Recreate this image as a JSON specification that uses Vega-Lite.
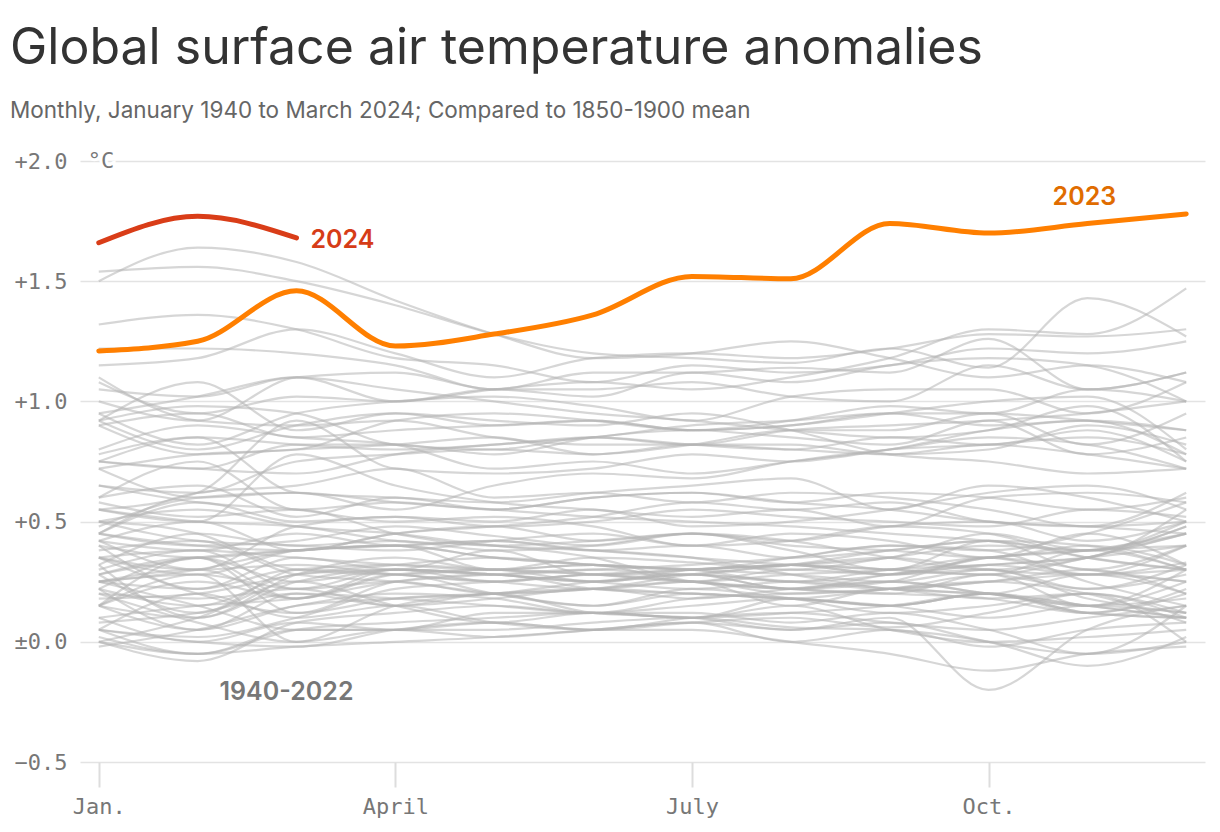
{
  "$schema": "https://vega.github.io/schema/vega-lite/v6.json",
  "width": 1125,
  "height": 601,
  "autosize": {"type": "none"},
  "padding": {"left": 80, "top": 161, "right": 15, "bottom": 70},
  "background": "white",
  "title": {
    "text": "Global surface air temperature anomalies",
    "subtitle": "Monthly, January 1940 to March 2024; Compared to 1850-1900 mean",
    "anchor": "start",
    "frame": "group",
    "dx": -70,
    "offset": 28,
    "font": "Inter",
    "fontSize": 50,
    "fontWeight": 400,
    "color": "#333333",
    "subtitleFont": "Inter",
    "subtitleFontSize": 22.5,
    "subtitleColor": "#666666",
    "subtitlePadding": 26
  },
  "config": {
    "view": {"stroke": null},
    "axis": {"gridColor": "#e3e3e3", "gridWidth": 1.5}
  },
  "datasets": {
    "hist": [
      {"year":1940,"Jan":0.30,"Feb":0.38,"Mar":0.35,"Apr":0.32,"May":0.30,"Jun":0.35,"Jul":0.33,"Aug":0.30,"Sep":0.35,"Oct":0.40,"Nov":0.38,"Dec":0.50},
      {"year":1941,"Jan":0.45,"Feb":0.40,"Mar":0.42,"Apr":0.48,"May":0.44,"Jun":0.40,"Jul":0.45,"Aug":0.38,"Sep":0.30,"Oct":0.42,"Nov":0.35,"Dec":0.30},
      {"year":1942,"Jan":0.32,"Feb":0.10,"Mar":0.28,"Apr":0.35,"May":0.30,"Jun":0.32,"Jul":0.25,"Aug":0.28,"Sep":0.30,"Oct":0.35,"Nov":0.28,"Dec":0.33},
      {"year":1943,"Jan":0.22,"Feb":0.35,"Mar":0.18,"Apr":0.30,"May":0.28,"Jun":0.25,"Jul":0.30,"Aug":0.32,"Sep":0.35,"Oct":0.45,"Nov":0.38,"Dec":0.48},
      {"year":1944,"Jan":0.50,"Feb":0.42,"Mar":0.40,"Apr":0.38,"May":0.42,"Jun":0.45,"Jul":0.40,"Aug":0.42,"Sep":0.48,"Oct":0.45,"Nov":0.35,"Dec":0.30},
      {"year":1945,"Jan":0.35,"Feb":0.28,"Mar":0.38,"Apr":0.40,"May":0.30,"Jun":0.32,"Jul":0.30,"Aug":0.35,"Sep":0.40,"Oct":0.38,"Nov":0.25,"Dec":0.15},
      {"year":1946,"Jan":0.25,"Feb":0.30,"Mar":0.18,"Apr":0.28,"May":0.20,"Jun":0.15,"Jul":0.20,"Aug":0.18,"Sep":0.22,"Oct":0.25,"Nov":0.20,"Dec":0.08},
      {"year":1947,"Jan":0.15,"Feb":0.10,"Mar":0.25,"Apr":0.30,"May":0.25,"Jun":0.28,"Jul":0.28,"Aug":0.22,"Sep":0.25,"Oct":0.35,"Nov":0.30,"Dec":0.25},
      {"year":1948,"Jan":0.35,"Feb":0.20,"Mar":0.12,"Apr":0.25,"May":0.28,"Jun":0.22,"Jul":0.20,"Aug":0.18,"Sep":0.15,"Oct":0.20,"Nov":0.12,"Dec":0.10},
      {"year":1949,"Jan":0.22,"Feb":0.05,"Mar":0.15,"Apr":0.20,"May":0.18,"Jun":0.12,"Jul":0.15,"Aug":0.18,"Sep":0.15,"Oct":0.20,"Nov":0.12,"Dec":0.10},
      {"year":1950,"Jan":0.00,"Feb":-0.08,"Mar":0.08,"Apr":0.12,"May":0.15,"Jun":0.12,"Jul":0.12,"Aug":0.08,"Sep":0.12,"Oct":0.05,"Nov":-0.05,"Dec":0.15},
      {"year":1951,"Jan":0.05,"Feb":0.02,"Mar":0.10,"Apr":0.22,"May":0.25,"Jun":0.28,"Jul":0.30,"Aug":0.32,"Sep":0.35,"Oct":0.30,"Nov":0.28,"Dec":0.40},
      {"year":1952,"Jan":0.35,"Feb":0.38,"Mar":0.22,"Apr":0.30,"May":0.28,"Jun":0.25,"Jul":0.28,"Aug":0.22,"Sep":0.25,"Oct":0.20,"Nov":0.15,"Dec":0.25},
      {"year":1953,"Jan":0.28,"Feb":0.35,"Mar":0.38,"Apr":0.40,"May":0.35,"Jun":0.32,"Jul":0.30,"Aug":0.28,"Sep":0.25,"Oct":0.30,"Nov":0.22,"Dec":0.28},
      {"year":1954,"Jan":0.05,"Feb":0.20,"Mar":0.10,"Apr":0.15,"May":0.08,"Jun":0.05,"Jul":0.08,"Aug":0.10,"Sep":0.06,"Oct":0.12,"Nov":0.20,"Dec":0.00},
      {"year":1955,"Jan":0.20,"Feb":0.08,"Mar":0.00,"Apr":0.05,"May":0.05,"Jun":0.08,"Jul":0.10,"Aug":0.06,"Sep":0.05,"Oct":0.00,"Nov":-0.10,"Dec":0.02},
      {"year":1956,"Jan":0.02,"Feb":-0.05,"Mar":0.05,"Apr":0.05,"May":0.02,"Jun":0.05,"Jul":0.08,"Aug":0.00,"Sep":0.05,"Oct":-0.02,"Nov":0.05,"Dec":0.08},
      {"year":1957,"Jan":0.10,"Feb":0.15,"Mar":0.18,"Apr":0.25,"May":0.28,"Jun":0.30,"Jul":0.28,"Aug":0.32,"Sep":0.30,"Oct":0.28,"Nov":0.35,"Dec":0.45},
      {"year":1958,"Jan":0.50,"Feb":0.45,"Mar":0.30,"Apr":0.28,"May":0.30,"Jun":0.25,"Jul":0.28,"Aug":0.25,"Sep":0.22,"Oct":0.25,"Nov":0.28,"Dec":0.20},
      {"year":1959,"Jan":0.25,"Feb":0.22,"Mar":0.30,"Apr":0.28,"May":0.25,"Jun":0.28,"Jul":0.25,"Aug":0.22,"Sep":0.20,"Oct":0.18,"Nov":0.12,"Dec":0.20},
      {"year":1960,"Jan":0.15,"Feb":0.28,"Mar":0.00,"Apr":0.15,"May":0.20,"Jun":0.22,"Jul":0.18,"Aug":0.22,"Sep":0.25,"Oct":0.20,"Nov":0.15,"Dec":0.30},
      {"year":1961,"Jan":0.28,"Feb":0.35,"Mar":0.25,"Apr":0.30,"May":0.28,"Jun":0.25,"Jul":0.22,"Aug":0.25,"Sep":0.22,"Oct":0.18,"Nov":0.20,"Dec":0.12},
      {"year":1962,"Jan":0.25,"Feb":0.28,"Mar":0.22,"Apr":0.25,"May":0.20,"Jun":0.22,"Jul":0.25,"Aug":0.20,"Sep":0.22,"Oct":0.25,"Nov":0.30,"Dec":0.20},
      {"year":1963,"Jan":0.15,"Feb":0.35,"Mar":0.12,"Apr":0.18,"May":0.20,"Jun":0.22,"Jul":0.28,"Aug":0.32,"Sep":0.38,"Oct":0.42,"Nov":0.40,"Dec":0.30},
      {"year":1964,"Jan":0.25,"Feb":0.15,"Mar":0.05,"Apr":0.05,"May":0.08,"Jun":0.05,"Jul":0.05,"Aug":0.00,"Sep":-0.05,"Oct":-0.12,"Nov":-0.05,"Dec":-0.02},
      {"year":1965,"Jan":0.10,"Feb":0.00,"Mar":0.08,"Apr":0.05,"May":0.12,"Jun":0.12,"Jul":0.10,"Aug":0.18,"Sep":0.15,"Oct":0.20,"Nov":0.12,"Dec":0.22},
      {"year":1966,"Jan":0.08,"Feb":0.12,"Mar":0.20,"Apr":0.15,"May":0.18,"Jun":0.22,"Jul":0.20,"Aug":0.18,"Sep":0.15,"Oct":0.10,"Nov":0.15,"Dec":0.12},
      {"year":1967,"Jan":0.15,"Feb":0.05,"Mar":0.20,"Apr":0.18,"May":0.15,"Jun":0.12,"Jul":0.18,"Aug":0.20,"Sep":0.22,"Oct":0.28,"Nov":0.15,"Dec":0.18},
      {"year":1968,"Jan":0.00,"Feb":0.10,"Mar":0.25,"Apr":0.15,"May":0.08,"Jun":0.12,"Jul":0.10,"Aug":0.12,"Sep":0.15,"Oct":0.20,"Nov":0.15,"Dec":0.10},
      {"year":1969,"Jan":0.18,"Feb":0.20,"Mar":0.28,"Apr":0.32,"May":0.35,"Jun":0.32,"Jul":0.30,"Aug":0.25,"Sep":0.30,"Oct":0.32,"Nov":0.35,"Dec":0.40},
      {"year":1970,"Jan":0.38,"Feb":0.42,"Mar":0.28,"Apr":0.25,"May":0.20,"Jun":0.15,"Jul":0.22,"Aug":0.18,"Sep":0.12,"Oct":0.15,"Nov":0.20,"Dec":0.10},
      {"year":1971,"Jan":0.05,"Feb":0.00,"Mar":-0.02,"Apr":0.05,"May":0.08,"Jun":0.05,"Jul":0.10,"Aug":0.12,"Sep":0.08,"Oct":0.05,"Nov":0.10,"Dec":0.15},
      {"year":1972,"Jan":-0.02,"Feb":0.05,"Mar":0.15,"Apr":0.18,"May":0.20,"Jun":0.25,"Jul":0.28,"Aug":0.25,"Sep":0.28,"Oct":0.35,"Nov":0.38,"Dec":0.45},
      {"year":1973,"Jan":0.50,"Feb":0.55,"Mar":0.48,"Apr":0.45,"May":0.40,"Jun":0.38,"Jul":0.35,"Aug":0.28,"Sep":0.22,"Oct":0.20,"Nov":0.15,"Dec":0.10},
      {"year":1974,"Jan":0.00,"Feb":-0.05,"Mar":0.05,"Apr":0.08,"May":0.10,"Jun":0.12,"Jul":0.10,"Aug":0.15,"Sep":0.05,"Oct":0.00,"Nov":0.02,"Dec":0.05},
      {"year":1975,"Jan":0.20,"Feb":0.18,"Mar":0.22,"Apr":0.15,"May":0.20,"Jun":0.12,"Jul":0.10,"Aug":0.05,"Sep":0.08,"Oct":0.00,"Nov":-0.05,"Dec":0.00},
      {"year":1976,"Jan":0.05,"Feb":-0.05,"Mar":-0.02,"Apr":0.00,"May":0.02,"Jun":0.05,"Jul":0.08,"Aug":0.05,"Sep":0.10,"Oct":-0.20,"Nov":0.05,"Dec":0.15},
      {"year":1977,"Jan":0.25,"Feb":0.30,"Mar":0.38,"Apr":0.40,"May":0.42,"Jun":0.38,"Jul":0.35,"Aug":0.32,"Sep":0.30,"Oct":0.28,"Nov":0.38,"Dec":0.30},
      {"year":1978,"Jan":0.35,"Feb":0.30,"Mar":0.32,"Apr":0.28,"May":0.25,"Jun":0.22,"Jul":0.25,"Aug":0.15,"Sep":0.22,"Oct":0.20,"Nov":0.28,"Dec":0.25},
      {"year":1979,"Jan":0.22,"Feb":0.15,"Mar":0.28,"Apr":0.30,"May":0.28,"Jun":0.30,"Jul":0.32,"Aug":0.35,"Sep":0.40,"Oct":0.38,"Nov":0.45,"Dec":0.58},
      {"year":1980,"Jan":0.45,"Feb":0.40,"Mar":0.38,"Apr":0.45,"May":0.48,"Jun":0.42,"Jul":0.45,"Aug":0.40,"Sep":0.38,"Oct":0.35,"Nov":0.40,"Dec":0.32},
      {"year":1981,"Jan":0.58,"Feb":0.52,"Mar":0.55,"Apr":0.45,"May":0.40,"Jun":0.42,"Jul":0.45,"Aug":0.42,"Sep":0.35,"Oct":0.30,"Nov":0.35,"Dec":0.48},
      {"year":1982,"Jan":0.15,"Feb":0.25,"Mar":0.18,"Apr":0.28,"May":0.30,"Jun":0.28,"Jul":0.25,"Aug":0.22,"Sep":0.28,"Oct":0.32,"Nov":0.35,"Dec":0.55},
      {"year":1983,"Jan":0.65,"Feb":0.58,"Mar":0.55,"Apr":0.50,"May":0.52,"Jun":0.48,"Jul":0.40,"Aug":0.45,"Sep":0.42,"Oct":0.35,"Nov":0.45,"Dec":0.32},
      {"year":1984,"Jan":0.40,"Feb":0.22,"Mar":0.35,"Apr":0.30,"May":0.38,"Jun":0.28,"Jul":0.30,"Aug":0.32,"Sep":0.28,"Oct":0.30,"Nov":0.18,"Dec":0.12},
      {"year":1985,"Jan":0.28,"Feb":0.12,"Mar":0.30,"Apr":0.32,"May":0.30,"Jun":0.28,"Jul":0.25,"Aug":0.30,"Sep":0.28,"Oct":0.32,"Nov":0.28,"Dec":0.30},
      {"year":1986,"Jan":0.40,"Feb":0.35,"Mar":0.38,"Apr":0.40,"May":0.35,"Jun":0.32,"Jul":0.30,"Aug":0.32,"Sep":0.28,"Oct":0.35,"Nov":0.38,"Dec":0.40},
      {"year":1987,"Jan":0.42,"Feb":0.50,"Mar":0.38,"Apr":0.45,"May":0.48,"Jun":0.52,"Jul":0.58,"Aug":0.55,"Sep":0.58,"Oct":0.50,"Nov":0.48,"Dec":0.62},
      {"year":1988,"Jan":0.72,"Feb":0.60,"Mar":0.62,"Apr":0.58,"May":0.55,"Jun":0.52,"Jul":0.50,"Aug":0.48,"Sep":0.45,"Oct":0.42,"Nov":0.38,"Dec":0.45},
      {"year":1989,"Jan":0.32,"Feb":0.45,"Mar":0.40,"Apr":0.42,"May":0.38,"Jun":0.40,"Jul":0.45,"Aug":0.42,"Sep":0.48,"Oct":0.50,"Nov":0.42,"Dec":0.50},
      {"year":1990,"Jan":0.55,"Feb":0.50,"Mar":0.78,"Apr":0.65,"May":0.58,"Jun":0.55,"Jul":0.52,"Aug":0.55,"Sep":0.48,"Oct":0.60,"Nov":0.62,"Dec":0.58},
      {"year":1991,"Jan":0.60,"Feb":0.65,"Mar":0.52,"Apr":0.60,"May":0.55,"Jun":0.60,"Jul":0.62,"Aug":0.58,"Sep":0.55,"Oct":0.50,"Nov":0.48,"Dec":0.45},
      {"year":1992,"Jan":0.55,"Feb":0.50,"Mar":0.48,"Apr":0.42,"May":0.40,"Jun":0.35,"Jul":0.25,"Aug":0.22,"Sep":0.20,"Oct":0.28,"Nov":0.22,"Dec":0.32},
      {"year":1993,"Jan":0.42,"Feb":0.38,"Mar":0.45,"Apr":0.40,"May":0.42,"Jun":0.38,"Jul":0.40,"Aug":0.35,"Sep":0.38,"Oct":0.42,"Nov":0.30,"Dec":0.40},
      {"year":1994,"Jan":0.42,"Feb":0.30,"Mar":0.48,"Apr":0.52,"May":0.50,"Jun":0.55,"Jul":0.48,"Aug":0.50,"Sep":0.55,"Oct":0.62,"Nov":0.65,"Dec":0.55},
      {"year":1995,"Jan":0.78,"Feb":0.85,"Mar":0.62,"Apr":0.60,"May":0.58,"Jun":0.62,"Jul":0.65,"Aug":0.68,"Sep":0.55,"Oct":0.65,"Nov":0.60,"Dec":0.50},
      {"year":1996,"Jan":0.45,"Feb":0.58,"Mar":0.50,"Apr":0.52,"May":0.48,"Jun":0.50,"Jul":0.55,"Aug":0.52,"Sep":0.50,"Oct":0.48,"Nov":0.55,"Dec":0.52},
      {"year":1997,"Jan":0.48,"Feb":0.60,"Mar":0.62,"Apr":0.55,"May":0.65,"Jun":0.70,"Jul":0.68,"Aug":0.75,"Sep":0.80,"Oct":0.82,"Nov":0.85,"Dec":0.78},
      {"year":1998,"Jan":0.92,"Feb":1.08,"Mar":0.88,"Apr":0.95,"May":0.92,"Jun":0.90,"Jul":0.95,"Aug":0.88,"Sep":0.78,"Oct":0.75,"Nov":0.70,"Dec":0.72},
      {"year":1999,"Jan":0.60,"Feb":0.75,"Mar":0.55,"Apr":0.58,"May":0.55,"Jun":0.60,"Jul":0.62,"Aug":0.58,"Sep":0.62,"Oct":0.60,"Nov":0.55,"Dec":0.60},
      {"year":2000,"Jan":0.45,"Feb":0.62,"Mar":0.65,"Apr":0.72,"May":0.60,"Jun":0.62,"Jul":0.58,"Aug":0.62,"Sep":0.60,"Oct":0.55,"Nov":0.48,"Dec":0.50},
      {"year":2001,"Jan":0.65,"Feb":0.62,"Mar":0.75,"Apr":0.78,"May":0.80,"Jun":0.78,"Jul":0.82,"Aug":0.80,"Sep":0.78,"Oct":0.80,"Nov":0.90,"Dec":0.82},
      {"year":2002,"Jan":0.92,"Feb":0.98,"Mar":0.95,"Apr":0.82,"May":0.80,"Jun":0.85,"Jul":0.82,"Aug":0.80,"Sep":0.85,"Oct":0.82,"Nov":0.88,"Dec":0.75},
      {"year":2003,"Jan":0.90,"Feb":0.78,"Mar":0.80,"Apr":0.82,"May":0.85,"Jun":0.78,"Jul":0.82,"Aug":0.88,"Sep":0.88,"Oct":0.95,"Nov":0.82,"Dec":0.95},
      {"year":2004,"Jan":0.80,"Feb":0.90,"Mar":0.85,"Apr":0.82,"May":0.72,"Jun":0.75,"Jul":0.70,"Aug":0.75,"Sep":0.80,"Oct":0.88,"Nov":0.92,"Dec":0.78},
      {"year":2005,"Jan":0.92,"Feb":0.80,"Mar":0.90,"Apr":0.95,"May":0.90,"Jun":0.92,"Jul":0.88,"Aug":0.90,"Sep":0.95,"Oct":0.95,"Nov":0.92,"Dec":0.88},
      {"year":2006,"Jan":0.75,"Feb":0.85,"Mar":0.82,"Apr":0.80,"May":0.82,"Jun":0.85,"Jul":0.82,"Aug":0.88,"Sep":0.90,"Oct":0.92,"Nov":0.95,"Dec":1.00},
      {"year":2007,"Jan":1.10,"Feb":0.92,"Mar":0.90,"Apr":0.92,"May":0.85,"Jun":0.82,"Jul":0.82,"Aug":0.82,"Sep":0.78,"Oct":0.82,"Nov":0.78,"Dec":0.72},
      {"year":2008,"Jan":0.55,"Feb":0.62,"Mar":0.92,"Apr":0.72,"May":0.70,"Jun":0.72,"Jul":0.78,"Aug":0.75,"Sep":0.80,"Oct":0.85,"Nov":0.82,"Dec":0.72},
      {"year":2009,"Jan":0.75,"Feb":0.72,"Mar":0.70,"Apr":0.78,"May":0.82,"Jun":0.85,"Jul":0.90,"Aug":0.92,"Sep":0.95,"Oct":0.90,"Nov":0.92,"Dec":0.88},
      {"year":2010,"Jan":0.95,"Feb":1.02,"Mar":1.10,"Apr":1.05,"May":1.00,"Jun":0.95,"Jul":0.92,"Aug":0.88,"Sep":0.85,"Oct":0.88,"Nov":0.98,"Dec":0.75},
      {"year":2011,"Jan":0.75,"Feb":0.72,"Mar":0.82,"Apr":0.82,"May":0.78,"Jun":0.85,"Jul":0.88,"Aug":0.85,"Sep":0.82,"Oct":0.92,"Nov":0.78,"Dec":0.85},
      {"year":2012,"Jan":0.72,"Feb":0.78,"Mar":0.80,"Apr":0.92,"May":0.95,"Jun":0.92,"Jul":0.88,"Aug":0.90,"Sep":0.95,"Oct":1.00,"Nov":1.02,"Dec":0.80},
      {"year":2013,"Jan":0.90,"Feb":0.95,"Mar":0.85,"Apr":0.88,"May":0.90,"Jun":0.92,"Jul":0.88,"Aug":0.92,"Sep":0.98,"Oct":0.95,"Nov":1.05,"Dec":1.00},
      {"year":2014,"Jan":0.95,"Feb":0.82,"Mar":0.95,"Apr":1.00,"May":1.02,"Jun":0.98,"Jul":0.92,"Aug":1.02,"Sep":1.05,"Oct":1.05,"Nov":0.95,"Dec":1.08},
      {"year":2015,"Jan":1.05,"Feb":1.02,"Mar":1.10,"Apr":1.00,"May":1.05,"Jun":1.08,"Jul":1.05,"Aug":1.10,"Sep":1.18,"Oct":1.30,"Nov":1.28,"Dec":1.47},
      {"year":2016,"Jan":1.50,"Feb":1.64,"Mar":1.58,"Apr":1.42,"May":1.28,"Jun":1.18,"Jul":1.20,"Aug":1.25,"Sep":1.18,"Oct":1.10,"Nov":1.15,"Dec":1.08},
      {"year":2017,"Jan":1.32,"Feb":1.36,"Mar":1.30,"Apr":1.18,"May":1.15,"Jun":1.08,"Jul":1.15,"Aug":1.12,"Sep":1.15,"Oct":1.22,"Nov":1.20,"Dec":1.25},
      {"year":2018,"Jan":1.00,"Feb":0.92,"Mar":1.10,"Apr":1.12,"May":1.05,"Jun":1.05,"Jul":1.08,"Aug":1.02,"Sep":1.00,"Oct":1.15,"Nov":1.05,"Dec":1.12},
      {"year":2019,"Jan":1.15,"Feb":1.18,"Mar":1.30,"Apr":1.20,"May":1.10,"Jun":1.18,"Jul":1.20,"Aug":1.18,"Sep":1.22,"Oct":1.28,"Nov":1.27,"Dec":1.30},
      {"year":2020,"Jan":1.54,"Feb":1.56,"Mar":1.50,"Apr":1.40,"May":1.28,"Jun":1.20,"Jul":1.18,"Aug":1.16,"Sep":1.22,"Oct":1.14,"Nov":1.43,"Dec":1.27},
      {"year":2021,"Jan":1.08,"Feb":0.95,"Mar":1.02,"Apr":1.00,"May":1.05,"Jun":1.02,"Jul":1.12,"Aug":1.08,"Sep":1.15,"Oct":1.18,"Nov":1.15,"Dec":1.00},
      {"year":2022,"Jan":1.22,"Feb":1.22,"Mar":1.20,"Apr":1.15,"May":1.05,"Jun":1.12,"Jul":1.12,"Aug":1.14,"Sep":1.12,"Oct":1.26,"Nov":1.05,"Dec":1.12}
    ],
    "y2023": [
      {"month":"Jan","anom":1.21},{"month":"Feb","anom":1.25},{"month":"Mar","anom":1.46},
      {"month":"Apr","anom":1.23},{"month":"May","anom":1.28},{"month":"Jun","anom":1.36},
      {"month":"Jul","anom":1.52},{"month":"Aug","anom":1.51},{"month":"Sep","anom":1.74},
      {"month":"Oct","anom":1.70},{"month":"Nov","anom":1.74},{"month":"Dec","anom":1.78}
    ],
    "y2024": [
      {"month":"Jan","anom":1.66},{"month":"Feb","anom":1.77},{"month":"Mar","anom":1.68}
    ]
  },
  "encoding": {
    "x": {
      "field": "month",
      "type": "ordinal",
      "scale": {"type": "point", "domain": ["Jan","Feb","Mar","Apr","May","Jun","Jul","Aug","Sep","Oct","Nov","Dec"], "padding": 0.19},
      "axis": {
        "title": null,
        "values": ["Jan","Apr","Jul","Oct"],
        "labelExpr": "datum.value == 'Jan' ? 'Jan.' : datum.value == 'Apr' ? 'April' : datum.value == 'Jul' ? 'July' : 'Oct.'",
        "domain": false,
        "grid": false,
        "ticks": true,
        "tickSize": 25,
        "tickColor": "#dddddd",
        "tickWidth": 2,
        "labelAngle": 0,
        "labelPadding": 9,
        "labelFont": "DejaVu Sans Mono",
        "labelFontSize": 22,
        "labelColor": "#777777"
      }
    },
    "y": {
      "field": "anom",
      "type": "quantitative",
      "scale": {"domain": [-0.5, 2.0], "nice": false, "zero": false},
      "axis": {
        "title": null,
        "values": [-0.5, 0, 0.5, 1, 1.5, 2],
        "labelExpr": "datum.value > 0 ? '+' + format(datum.value, '.1f') : (datum.value == 0 ? '±0.0' : '−' + format(-datum.value, '.1f'))",
        "domain": false,
        "ticks": false,
        "grid": true,
        "labelAlign": "left",
        "labelBaseline": "middle",
        "labelPadding": 66,
        "labelFont": "DejaVu Sans Mono",
        "labelFontSize": 22,
        "labelColor": "#777777"
      }
    }
  },
  "layer": [
    {
      "data": {"name": "hist"},
      "transform": [{"fold": ["Jan","Feb","Mar","Apr","May","Jun","Jul","Aug","Sep","Oct","Nov","Dec"], "as": ["month", "anom"]}],
      "mark": {"type": "line", "interpolate": "monotone", "stroke": "#b5b5b5", "strokeWidth": 2.2, "opacity": 0.55},
      "encoding": {"detail": {"field": "year", "type": "nominal"}}
    },
    {
      "data": {"name": "y2023"},
      "mark": {"type": "line", "interpolate": "monotone", "stroke": "#ff7f00", "strokeWidth": 5, "strokeCap": "round"}
    },
    {
      "data": {"name": "y2024"},
      "mark": {"type": "line", "interpolate": "monotone", "stroke": "#d93d18", "strokeWidth": 5, "strokeCap": "round"}
    },
    {
      "data": {"values": [{"month": "Mar", "anom": 1.67, "label": "2024"}]},
      "mark": {"type": "text", "align": "left", "baseline": "middle", "dx": 14, "font": "Inter", "fontSize": 25, "fontWeight": 600, "color": "#d63c17"},
      "encoding": {"text": {"field": "label"}}
    },
    {
      "data": {"values": [{"month": "Nov", "anom": 1.85, "label": "2023"}]},
      "mark": {"type": "text", "align": "center", "baseline": "middle", "dx": -3, "font": "Inter", "fontSize": 25, "fontWeight": 600, "color": "#e06c00"},
      "encoding": {"text": {"field": "label"}}
    },
    {
      "data": {"values": [{"month": "Mar", "anom": -0.21, "label": "1940-2022"}]},
      "mark": {"type": "text", "align": "center", "baseline": "middle", "dx": -10, "font": "Inter", "fontSize": 25, "fontWeight": 600, "color": "#777777"},
      "encoding": {"text": {"field": "label"}}
    },
    {
      "data": {"values": [{"month": "Jan", "anom": 2.0, "label": "°C"}]},
      "mark": {"type": "text", "align": "left", "baseline": "middle", "dx": -11, "font": "DejaVu Sans Mono", "fontSize": 22, "color": "white", "stroke": "white", "strokeWidth": 6},
      "encoding": {"text": {"field": "label"}}
    },
    {
      "data": {"values": [{"month": "Jan", "anom": 2.0, "label": "°C"}]},
      "mark": {"type": "text", "align": "left", "baseline": "middle", "dx": -11, "font": "DejaVu Sans Mono", "fontSize": 22, "color": "#777777"},
      "encoding": {"text": {"field": "label"}}
    }
  ]
}
